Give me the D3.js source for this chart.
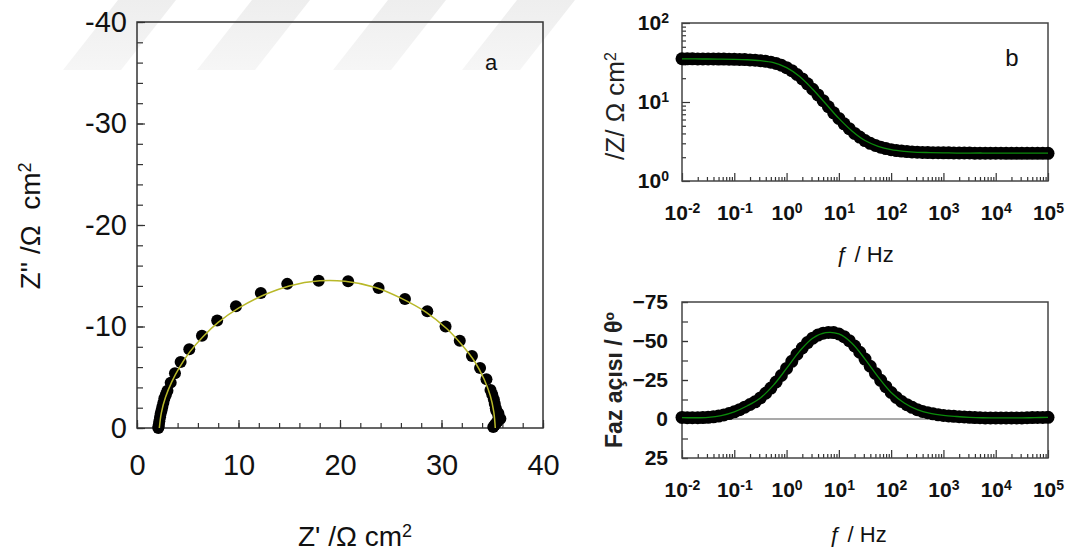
<!DOCTYPE html>
<html><head><meta charset="utf-8">
<script src="https://cdn.jsdelivr.net/npm/d3@7"></script>
<style>body{margin:0;background:#fff} svg{display:block}</style>
</head><body><svg id="c" width="1072" height="552"></svg>
<script>
// ---------- DATA ----------
// Panel a: Nyquist (Z' , Z'')
const nyqZre = [35.1,35.25,35.4,35.55,35.8,35.6,35.6,35.4,35.35,35.25,35.16,35.0,34.83,34.43,33.8,33.0,31.8,30.4,28.6,26.4,23.8,20.8,17.9,14.8,12.2,9.75,7.9,6.4,5.15,4.3,3.74,3.32,3.0,2.85,2.7,2.6,2.5,2.42,2.33,2.27,2.2,2.15,2.12,2.1];
const nyqZim = [-0.1,-0.3,-0.5,-0.7,-0.9,-1.2,-1.45,-1.7,-1.95,-2.4,-2.82,-3.3,-3.74,-4.8,-5.9,-7.1,-8.6,-10.0,-11.5,-12.7,-13.8,-14.45,-14.5,-14.2,-13.3,-12.0,-10.6,-9.1,-7.75,-6.5,-5.39,-4.47,-3.68,-3.3,-2.92,-2.5,-2.1,-1.75,-1.4,-1.05,-0.66,-0.33,-0.15,0.0];
const nyqFitZre = [2.2,2.4,2.8,3.4,4.2,5.2,6.5,8.0,10.0,12.5,15.0,18.0,20.5,23.5,26.0,28.5,30.5,32.0,33.3,34.2,34.8,35.15,35.3];
const nyqFitZim = [0,-1.5,-3.0,-4.5,-6.0,-7.5,-9.0,-10.4,-11.8,-13.1,-14.0,-14.5,-14.45,-13.85,-12.8,-11.4,-9.8,-8.2,-6.5,-4.8,-3.2,-1.6,0];
const nyqXTicks = [0,10,20,30,40];
const nyqYTicks = [0,-10,-20,-30,-40];

// Panels b, c: Bode
const freq = [0.01,0.0126,0.0158,0.02,0.0251,0.0316,0.0398,0.0501,0.0631,0.0794,
  0.1,0.126,0.158,0.2,0.251,0.316,0.398,0.501,0.631,0.794,
  1,1.26,1.58,2,2.51,3.16,3.98,5.01,6.31,7.94,
  10,12.6,15.8,20,25.1,31.6,39.8,50.1,63.1,79.4,
  100,126,158,200,251,316,398,501,631,794,
  1000,1260,1580,2000,2510,3160,3980,5010,6310,7940,
  10000,12600,15800,20000,25100,31600,39800,50100,63100,79400,100000];
const zMod = [35.3,35.2,35.2,35.1,35.1,35.0,35.0,34.9,34.9,34.8,
  34.7,34.6,34.4,34.1,33.8,33.3,32.7,31.9,30.8,29.2,
  27.2,24.9,22.3,19.6,17.0,14.5,12.3,10.4,8.7,7.3,
  6.2,5.3,4.6,4.0,3.6,3.25,3.0,2.82,2.68,2.57,
  2.49,2.43,2.39,2.36,2.33,2.31,2.30,2.29,2.28,2.28,
  2.27,2.27,2.26,2.26,2.26,2.26,2.25,2.25,2.25,2.25,
  2.25,2.25,2.24,2.24,2.24,2.24,2.24,2.24,2.24,2.24,2.24];
const phase = [-1.0,-0.8,-0.8,-0.8,-0.9,-1.1,-1.4,-1.9,-2.6,-3.5,
  -4.6,-6.0,-7.6,-9.3,-11.0,-13.5,-16.5,-19.8,-23.7,-27.9,
  -32.4,-37.0,-41.5,-45.5,-49.0,-51.8,-53.8,-55.0,-55.5,-55.4,
  -54.5,-52.8,-50.2,-46.8,-42.8,-38.4,-33.8,-29.2,-24.8,-20.7,
  -17.0,-13.8,-11.2,-9.2,-7.5,-6.0,-4.8,-4.0,-3.3,-2.7,
  -2.3,-2.0,-1.7,-1.5,-1.3,-1.1,-0.9,-0.8,-0.7,-0.7,
  -0.7,-0.7,-0.7,-0.7,-0.7,-0.7,-0.8,-0.9,-1.0,-1.0,-1.1];
const fitFreq = [0.01,0.0178,0.0316,0.0562,0.1,0.178,0.316,0.562,1,1.78,3.16,5.62,10,17.8,31.6,56.2,100,178,316,562,1000,1780,3160,5620,10000,17800,31600,56200,100000];
const fitZMod = [35.2,35.1,35.0,34.9,34.7,34.25,33.3,31.4,27.2,21.0,14.5,9.5,6.2,4.3,3.25,2.75,2.49,2.37,2.31,2.29,2.27,2.26,2.26,2.26,2.25,2.25,2.25,2.25,2.25];
const fitPhase = [-0.9,-0.8,-1.1,-2.2,-4.6,-8.5,-13.5,-21.7,-32.4,-43.5,-51.8,-55.3,-54.5,-48.6,-38.4,-27.0,-17.0,-10.3,-6.0,-3.6,-2.3,-1.6,-1.1,-0.8,-0.7,-0.7,-0.7,-0.9,-1.0];
const bodeXTicks = [1e-2,1e-1,1e0,1e1,1e2,1e3,1e4,1e5];
const bodeXExp = ["-2","-1","0","1","2","3","4","5"];
const modYTicks = [1,10,100];
const modYExp = ["0","1","2"];
const phaseYTicks = [-75,-50,-25,0,25];

// ---------- DRAW ----------
const FONT = "Arial, 'Liberation Sans', Helvetica, sans-serif";
const svg = d3.select("#c");

// watermark stripes
const defs = svg.append("defs");
const gr = defs.append("linearGradient").attr("id","wm").attr("x1",0).attr("y1",0).attr("x2",0).attr("y2",1);
gr.append("stop").attr("offset","0%").attr("stop-color","#eeeeee");
gr.append("stop").attr("offset","100%").attr("stop-color","#f6f6f6");
svg.append("g").selectAll("path").data([63,197,333,462]).join("path")
  .attr("d", x0 => `M${x0},70 L${x0+58},70 L${x0+113},0 L${x0+55},0 Z`)
  .attr("fill","url(#wm)");

function styleAxis(g, size, weight) {
  g.select(".domain").remove();
  g.attr("font-family", FONT).attr("font-size", size).attr("font-weight", weight||"normal");
  g.selectAll(".tick line").attr("stroke","#333").attr("stroke-width",1.2);
  g.selectAll(".tick text").attr("fill","#111");
}
function supText(g, ticks, exps, supSize) {
  g.selectAll(".tick text").each(function(d){
    const i = ticks.indexOf(d);
    const t = d3.select(this); t.text(null);
    t.append("tspan").text("10");
    t.append("tspan").attr("dy","-0.5em").attr("font-size",supSize).text(exps[i]);
  });
}

// ===== Panel a =====
const xa = d3.scaleLinear().domain([0,40]).range([137,543]);
const ya = d3.scaleLinear().domain([0,-40]).range([428,22]);
const minorA = d3.range(0,41,2);
const minorAy = d3.range(0,-41,-2);
let g;
g = svg.append("g").attr("transform","translate(0,428)").call(d3.axisBottom(xa).tickValues(minorA).tickSize(-5).tickFormat(""));
styleAxis(g, 10);
g = svg.append("g").attr("transform","translate(0,428)").call(d3.axisBottom(xa).tickValues(nyqXTicks).tickSize(-8).tickPadding(26).tickFormat(d3.format("d")));
styleAxis(g, 29);
g = svg.append("g").attr("transform","translate(137,0)").call(d3.axisLeft(ya).tickValues(minorAy).tickSize(-6).tickFormat(""));
styleAxis(g, 10);
g = svg.append("g").attr("transform","translate(137,0)").call(d3.axisLeft(ya).tickValues(nyqYTicks).tickSize(-8).tickPadding(10).tickFormat(d => d===0 ? "0" : "-" + Math.abs(d)));
styleAxis(g, 29);
svg.append("rect").attr("x",137).attr("y",22).attr("width",406).attr("height",406)
  .attr("fill","none").attr("stroke","#333").attr("stroke-width",1.5);

svg.append("g").selectAll("circle").data(nyqZre.map((v,i)=>[v,nyqZim[i]])).join("circle")
  .attr("cx",d=>xa(d[0])).attr("cy",d=>ya(d[1])).attr("r",6).attr("fill","#000");
svg.append("path").datum(nyqFitZre.map((v,i)=>[v,nyqFitZim[i]]))
  .attr("d", d3.line().curve(d3.curveCatmullRom).x(d=>xa(d[0])).y(d=>ya(d[1])))
  .attr("fill","none").attr("stroke","#b8b828").attr("stroke-width",1.5);

svg.append("text").attr("x",491).attr("y",70).attr("text-anchor","middle")
  .attr("font-family",FONT).attr("font-size",22).attr("fill","#111").text("a");
const xt = svg.append("text").attr("x",355).attr("y",546).attr("text-anchor","middle")
  .attr("font-family",FONT).attr("font-size",28).attr("fill","#111");
xt.append("tspan").text("Z' /Ω cm");
xt.append("tspan").attr("dy","-0.5em").attr("font-size",18).text("2");
const yt = svg.append("text").attr("transform","translate(40,226) rotate(-90)").attr("text-anchor","middle")
  .attr("font-family",FONT).attr("font-size",28).attr("fill","#111").attr("xml:space","preserve");
yt.append("tspan").text("Z'' /Ω  cm");
yt.append("tspan").attr("dy","-0.5em").attr("font-size",18).text("2");

// ===== Panels b, c shared x =====
const xb = d3.scaleLog().domain([1e-2,1e5]).range([682,1048]);
const minorX = [];
for (let k=-2;k<5;k++) for (let m=2;m<10;m++) minorX.push(m*Math.pow(10,k));

function bodeXAxis(y0) {
  let a = svg.append("g").attr("transform",`translate(0,${y0})`).call(d3.axisBottom(xb).tickValues(minorX).tickSize(-4).tickFormat(""));
  styleAxis(a,10);
  a = svg.append("g").attr("transform",`translate(0,${y0})`).call(d3.axisBottom(xb).tickValues(bodeXTicks).tickSize(-8).tickPadding(24));
  styleAxis(a,21,"bold");
  supText(a, bodeXTicks, bodeXExp, 14);
}

// ===== Panel b =====
const yb = d3.scaleLog().domain([1,100]).range([181,23]);
const minorY = [];
for (let k=0;k<2;k++) for (let m=2;m<10;m++) minorY.push(m*Math.pow(10,k));
bodeXAxis(181);
g = svg.append("g").attr("transform","translate(682,0)").call(d3.axisLeft(yb).tickValues(minorY).tickSize(-4).tickFormat(""));
styleAxis(g,10);
g = svg.append("g").attr("transform","translate(682,0)").call(d3.axisLeft(yb).tickValues(modYTicks).tickSize(-8).tickPadding(13));
styleAxis(g,21,"bold");
supText(g, modYTicks, modYExp, 14);
svg.append("rect").attr("x",682).attr("y",23).attr("width",366).attr("height",158)
  .attr("fill","none").attr("stroke","#444").attr("stroke-width",1.5);
svg.append("g").selectAll("circle").data(freq.map((f,i)=>[f,zMod[i]])).join("circle")
  .attr("cx",d=>xb(d[0])).attr("cy",d=>yb(d[1])).attr("r",6.5).attr("fill","#000");
svg.append("path").datum(fitFreq.map((f,i)=>[f,fitZMod[i]]))
  .attr("d", d3.line().curve(d3.curveCatmullRom).x(d=>xb(d[0])).y(d=>yb(d[1])))
  .attr("fill","none").attr("stroke","#0b8a0b").attr("stroke-width",1.3);
svg.append("text").attr("x",1012).attr("y",66).attr("text-anchor","middle")
  .attr("font-family",FONT).attr("font-size",24).attr("fill","#111").text("b");
const bt = svg.append("text").attr("transform","translate(624,106) rotate(-90)").attr("text-anchor","middle")
  .attr("font-family",FONT).attr("font-size",26).attr("fill","#222");
bt.append("tspan").text("/Z/ Ω cm");
bt.append("tspan").attr("dy","-0.5em").attr("font-size",16).text("2");
svg.append("text").attr("x",865).attr("y",262).attr("text-anchor","middle")
  .attr("font-family",FONT).attr("font-size",22).attr("fill","#111").text("ƒ / Hz");

// ===== Panel c =====
const yc = d3.scaleLinear().domain([-75,25]).range([302,458]);
bodeXAxis(458);
g = svg.append("g").attr("transform","translate(682,0)").call(d3.axisLeft(yc).tickValues(d3.range(-75,26,12.5)).tickSize(-6).tickFormat(""));
styleAxis(g,10);
g = svg.append("g").attr("transform","translate(682,0)").call(d3.axisLeft(yc).tickValues(phaseYTicks).tickSize(-6).tickPadding(14).tickFormat(d3.format("d")));
styleAxis(g,21,"bold");
svg.append("line").attr("x1",682).attr("x2",1048).attr("y1",yc(0)).attr("y2",yc(0))
  .attr("stroke","#555").attr("stroke-width",1.2);
svg.append("rect").attr("x",682).attr("y",302).attr("width",366).attr("height",156)
  .attr("fill","none").attr("stroke","#444").attr("stroke-width",1.5);
svg.append("g").selectAll("circle").data(freq.map((f,i)=>[f,phase[i]])).join("circle")
  .attr("cx",d=>xb(d[0])).attr("cy",d=>yc(d[1])).attr("r",6.5).attr("fill","#000");
svg.append("path").datum(fitFreq.map((f,i)=>[f,fitPhase[i]]))
  .attr("d", d3.line().curve(d3.curveCatmullRom).x(d=>xb(d[0])).y(d=>yc(d[1])))
  .attr("fill","none").attr("stroke","#0b8a0b").attr("stroke-width",1.3);
svg.append("text").attr("transform","translate(622,380) rotate(-90)").attr("text-anchor","middle")
  .attr("font-family",FONT).attr("font-size",23).attr("font-weight","bold").attr("fill","#222").text("Faz açısı / θº");
svg.append("text").attr("x",858).attr("y",542).attr("text-anchor","middle")
  .attr("font-family",FONT).attr("font-size",22).attr("fill","#111").text("ƒ / Hz");
</script></body></html>
